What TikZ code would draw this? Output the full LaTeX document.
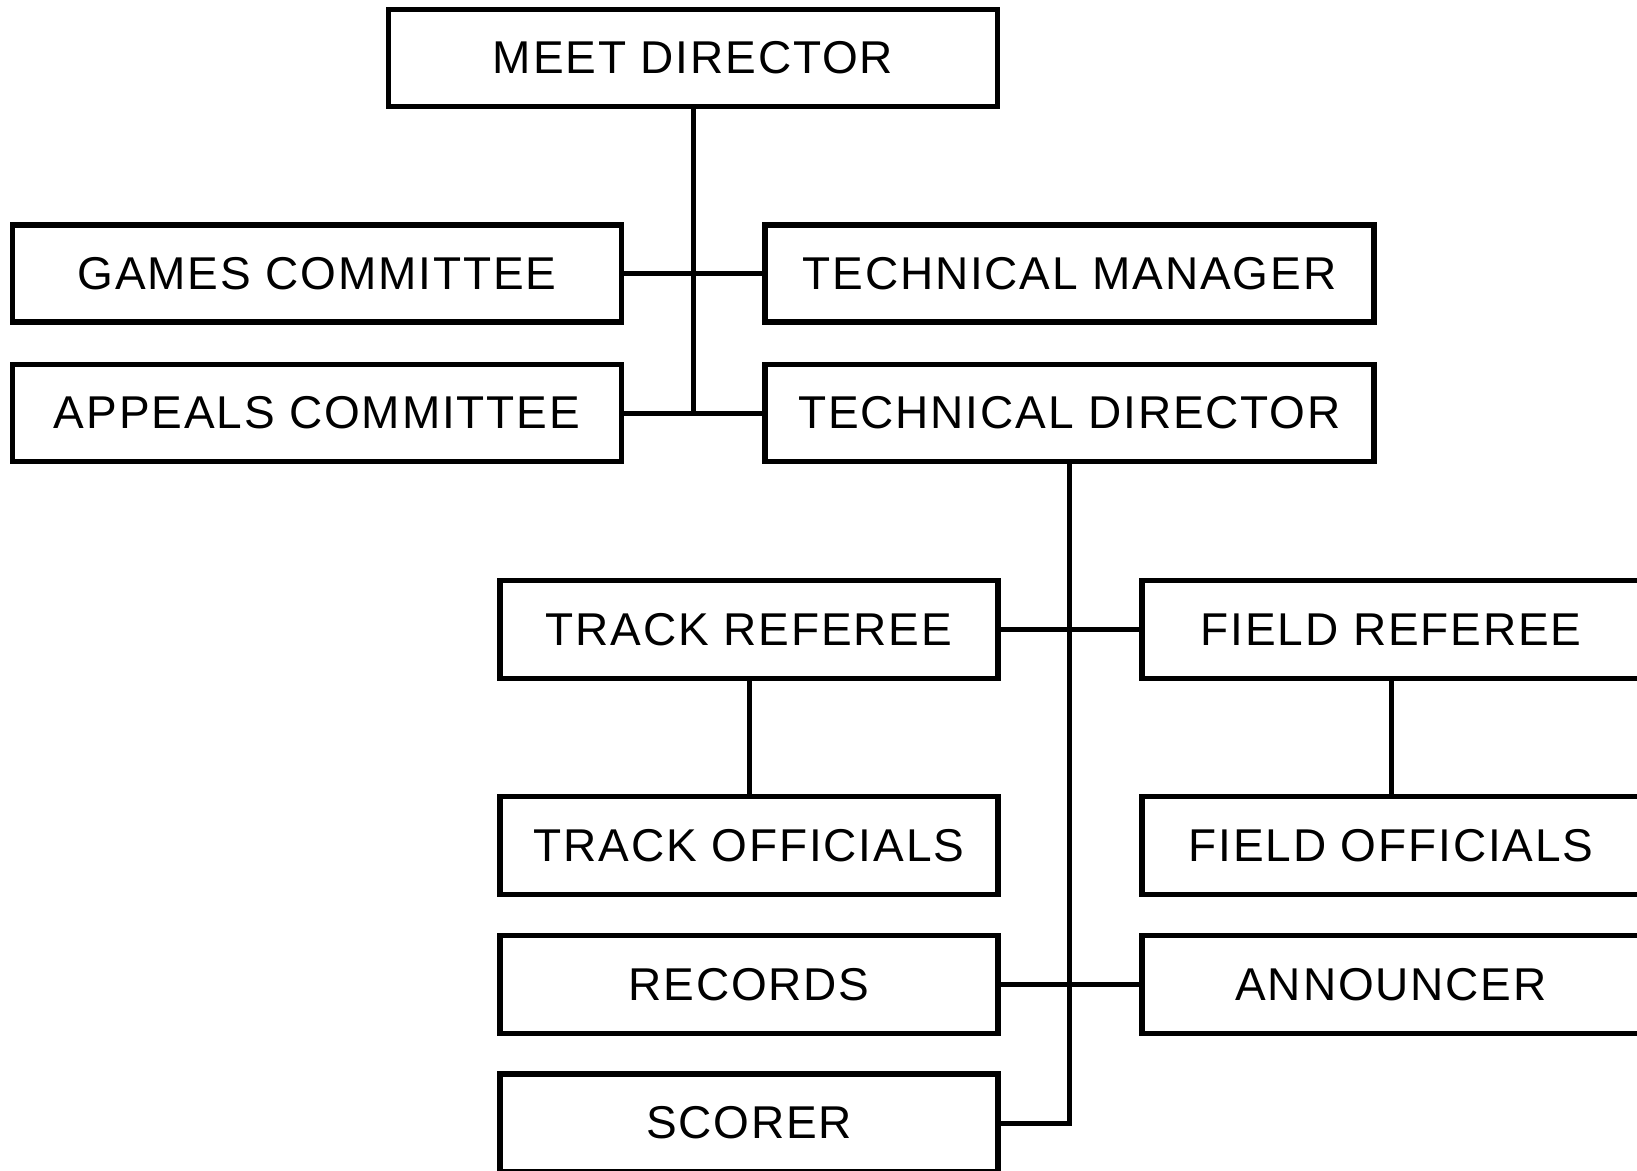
\documentclass[tikz,border=0pt]{standalone}
\usepackage{fontspec}
\setmainfont{Liberation Sans}[LetterSpace=4]
\begin{document}
\begin{tikzpicture}[x=1pt,y=-1pt,
  wbox/.style={draw,line width=5.5pt,rectangle,inner sep=0pt,minimum width=609pt,minimum height=97pt,font=\fontsize{46}{56}\selectfont},
  sbox/.style={draw,line width=5.5pt,rectangle,inner sep=0pt,minimum width=498pt,minimum height=98pt,font=\fontsize{46}{56}\selectfont},
  conn/.style={line width=5pt}]
\useasboundingbox (0,0) rectangle (1637,1170);
\clip (0,0) rectangle (1637,1170);
\node[wbox] (md) at (693,58) {MEET DIRECTOR};
\node[wbox] (gc) at (317,273.5) {GAMES COMMITTEE};
\node[wbox] (tm) at (1069.5,273.5) {TECHNICAL MANAGER};
\node[wbox] (ac) at (317,413) {APPEALS COMMITTEE};
\node[wbox] (td) at (1069.5,413) {TECHNICAL DIRECTOR};
\node[sbox] (tr) at (749,629.5) {TRACK REFEREE};
\node[sbox] (fr) at (1391,629.5) {FIELD REFEREE};
\node[sbox] (to) at (749,845.5) {TRACK OFFICIALS};
\node[sbox] (fo) at (1391,845.5) {FIELD OFFICIALS};
\node[sbox] (rc) at (749,984.5) {RECORDS};
\node[sbox] (an) at (1391,984.5) {ANNOUNCER};
\node[sbox] (sc) at (749,1123) {SCORER};
\coordinate (mdend) at (md.south |- ac.east);
\coordinate (tdend) at (td.south |- sc.east);
\draw[conn] (md.south) -- (mdend);
\draw[conn] (gc.east) -- (tm.west);
\draw[conn] (ac.east) -- (td.west);
\draw[conn] (td.south) -- (tdend) -- (sc.east);
\draw[conn] (tr.east) -- (fr.west);
\draw[conn] (rc.east) -- (an.west);
\draw[conn] (tr.south) -- (to.north);
\draw[conn] (fr.south) -- (fo.north);
\end{tikzpicture}
\end{document}
